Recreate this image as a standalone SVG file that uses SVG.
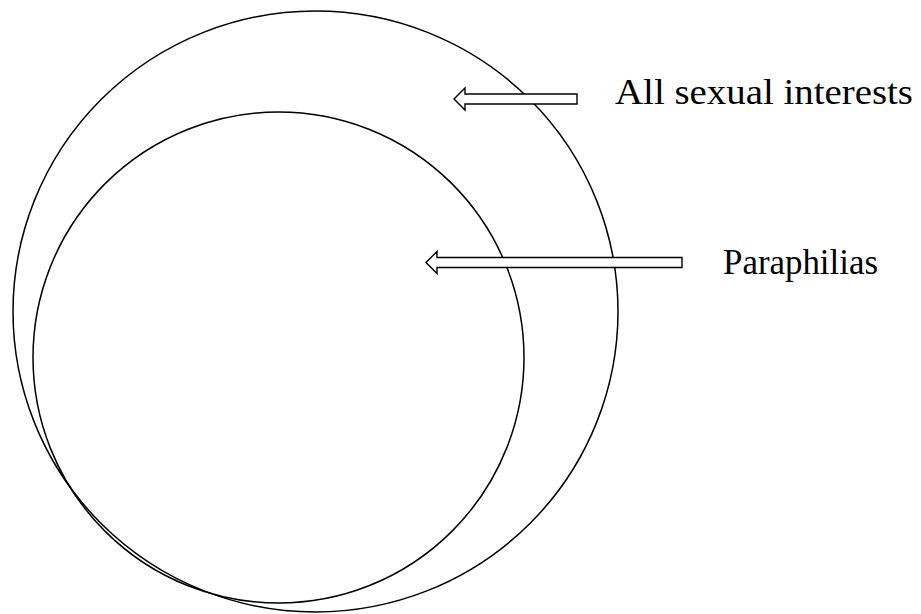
<svg xmlns="http://www.w3.org/2000/svg" width="921" height="614" viewBox="0 0 921 614">
<style>
.c{fill:none;stroke:#000;stroke-width:1.5}
.a{fill:#fff;stroke:#000;stroke-width:1.4;stroke-linejoin:miter}
.t{font-family:"Liberation Serif",serif;font-size:35px;fill:#000}
</style>
<rect width="921" height="614" fill="#fff"/>
<g id="all-sexual-interests"><ellipse class="c" cx="315.5" cy="311.5" rx="302.5" ry="300.5"/></g>
<g id="paraphilias"><ellipse class="c" cx="278.5" cy="357.5" rx="245.5" ry="245.5"/></g>
<g id="connectors">
<path class="a" d="M454,99 L465,88 L465,94 L577,94 L577,104 L465,104 L465,110 Z"/>
<path class="a" d="M426,262.5 L437,251.5 L437,257.5 L682,257.5 L682,267.5 L437,267.5 L437,273.5 Z"/>
</g>
<g id="labels">
<text class="t" x="615" y="104" textLength="298" lengthAdjust="spacingAndGlyphs">All sexual interests</text>
<text class="t" x="723" y="274" textLength="155" lengthAdjust="spacingAndGlyphs">Paraphilias</text>
</g>
</svg>
